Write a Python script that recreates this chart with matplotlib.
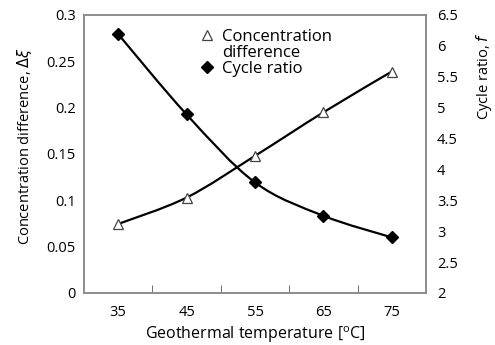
import numpy as np
import matplotlib.pyplot as plt
from matplotlib.path import Path
from matplotlib.patches import PathPatch
from matplotlib.lines import Line2D

plt.rcParams['font.family'] = ['Open Sans', 'DejaVu Sans']

# data
temps = ['35', '45', '55', '65', '75']
conc_diff = [0.0745, 0.103, 0.148, 0.195, 0.239]
cycle_ratio = [6.19, 4.89, 3.79, 3.25, 2.90]


def smooth_path(xs, ys):
    # Catmull-Rom style bezier through the points (like a smoothed Excel line)
    xs = np.asarray(xs, float)
    ys = np.asarray(ys, float)
    verts = [(xs[0], ys[0])]
    codes = [Path.MOVETO]
    n = len(xs)
    for i in range(n - 1):
        x0, y0 = (xs[i - 1], ys[i - 1]) if i > 0 else (xs[i], ys[i])
        x3, y3 = (xs[i + 2], ys[i + 2]) if i + 2 < n else (xs[i + 1], ys[i + 1])
        x1, y1 = xs[i], ys[i]
        x2, y2 = xs[i + 1], ys[i + 1]
        c1 = (x1 + (x2 - x0) / 6, y1 + (y2 - y0) / 6)
        c2 = (x2 - (x3 - x1) / 6, y2 - (y3 - y1) / 6)
        verts += [c1, c2, (x2, y2)]
        codes += [Path.CURVE4] * 3
    return Path(verts, codes)


fs = 10.5

fig = plt.figure(figsize=(4.95, 3.45), dpi=100)
ax = fig.add_axes([84 / 495, 1 - 293 / 345, 342 / 495, 278 / 345])
ax2 = ax.twinx()

x = np.arange(len(temps))

ax.add_patch(PathPatch(smooth_path(x, conc_diff), fill=False, lw=1.6, color='black'))
tri, = ax.plot(x, conc_diff, ls='none', marker='^', ms=7.5, mfc='white', mec='#444444', mew=0.9)
ax2.add_patch(PathPatch(smooth_path(x, cycle_ratio), fill=False, lw=1.6, color='black'))
dia, = ax2.plot(x, cycle_ratio, ls='none', marker='D', ms=6, color='black')

ax.set_xlim(-0.5, len(temps) - 0.5)
ax.set_ylim(0, 0.3)
ax2.set_ylim(2, 6.5)
ax.set_yticks(np.arange(0, 0.31, 0.05))
ax.set_yticklabels(['0', '0.05', '0.1', '0.15', '0.2', '0.25', '0.3'])
ax2.set_yticks(np.arange(2, 6.51, 0.5))
ax2.set_yticklabels(['2', '2.5', '3', '3.5', '4', '4.5', '5', '5.5', '6', '6.5'])

ax.set_xticks(x)
ax.set_xticklabels(temps)
ax.set_xticks(x[:-1] + 0.5, minor=True)
ax.tick_params(axis='x', which='major', length=0, pad=9, labelsize=fs)
ax.tick_params(axis='x', which='minor', direction='in', length=6, color='#555555')
ax.tick_params(axis='y', length=0, pad=6, labelsize=fs)
ax2.tick_params(axis='y', length=0, pad=8, labelsize=fs)

for a in (ax, ax2):
    for s in a.spines.values():
        s.set_color('#8c8c8c')
        s.set_linewidth(1.2)

ax.set_xlabel('Geothermal temperature [$^\\mathregular{o}$C]', fontsize=11.5, labelpad=3)
ax.set_ylabel('Concentration difference, $\\Delta\\xi$', fontsize=fs)
ax.yaxis.set_label_coords(-0.147, 0.53)
ax2.set_ylabel('Cycle ratio, $f$', fontsize=fs)
ax2.yaxis.set_label_coords(1.14, 0.78)

blank = Line2D([], [], ls='none', marker=None)
ax2.legend([tri, blank, dia], ['Concentration', 'difference', 'Cycle ratio'],
           loc='upper left', bbox_to_anchor=(0.32, 0.975), frameon=False,
           fontsize=12, handlelength=0.8, handletextpad=0.5, labelspacing=0.0,
           borderaxespad=0)

fig.savefig('out.png', dpi=100)
